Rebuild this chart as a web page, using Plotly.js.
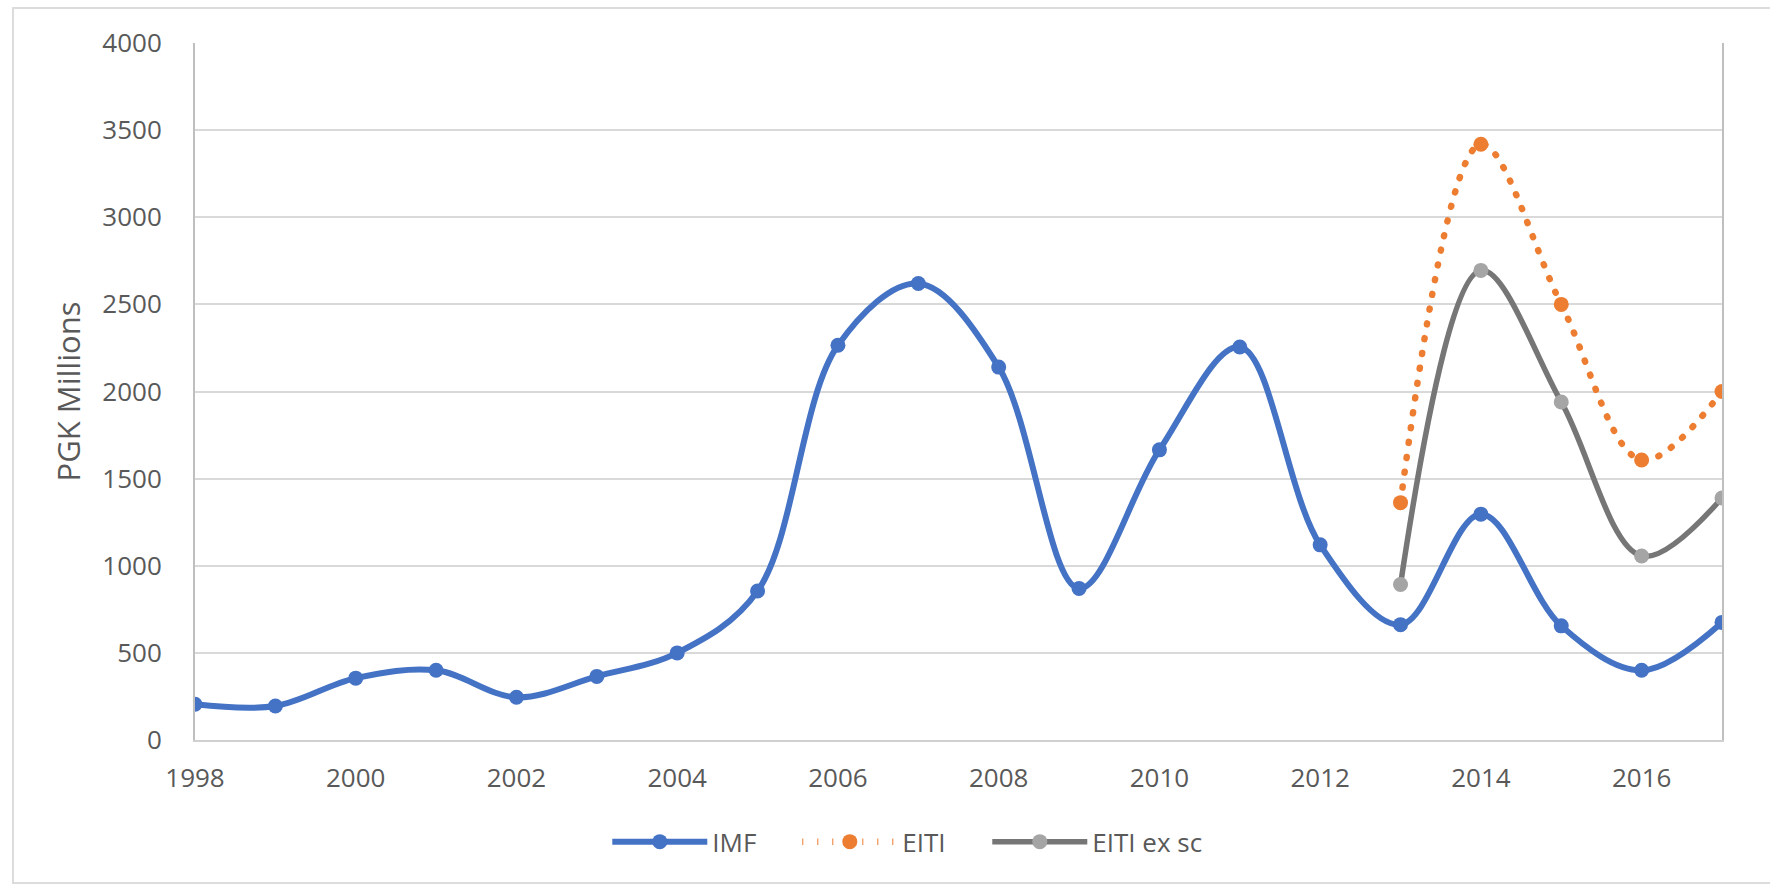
<!DOCTYPE html>
<html>
<head>
<meta charset="utf-8">
<script src="https://cdn.plot.ly/plotly-3.0.1.min.js"></script>
<style>
  html, body { margin: 0; padding: 0; background: #ffffff; overflow: hidden; }
  #frame {
    position: absolute; left: 12px; top: 7px; width: 1770px; height: 877px;
    border: 2px solid #dcdcdc; box-sizing: border-box;
  }
  #chart { position: absolute; left: 0; top: 0; width: 1770px; height: 887px; }
  .scatterlayer .js-line { stroke-linecap: round; }
</style>
</head>
<body>
<div id="frame"></div>
<div id="chart"></div>
<script>
// Revenue series, PGK millions
const years = [1998, 1999, 2000, 2001, 2002, 2003, 2004, 2005, 2006, 2007,
               2008, 2009, 2010, 2011, 2012, 2013, 2014, 2015, 2016, 2017];
const imf = [205, 195, 355, 400, 245, 365, 500, 855, 2265, 2620,
             2140, 870, 1665, 2255, 1120, 662, 1296, 655, 400, 675];

const eitiYears = [2013, 2014, 2015, 2016, 2017];
const eiti = [1362, 3419, 2500, 1607, 2000];
const eitiExSc = [892, 2695, 1940, 1056, 1389];

const xTicks = [1998, 2000, 2002, 2004, 2006, 2008, 2010, 2012, 2014, 2016];
const yTicks = [0, 500, 1000, 1500, 2000, 2500, 3000, 3500, 4000];

const font = '"Open Sans", "DejaVu Sans", sans-serif';
const grey = '#595959';

const traces = [
  {
    name: 'IMF', x: years, y: imf, type: 'scatter', mode: 'lines+markers',
    line: { color: '#4472c4', width: 6, shape: 'spline', smoothing: 1 },
    marker: { color: '#4472c4', size: 15 }
  },
  {
    name: 'EITI', x: eitiYears, y: eiti, type: 'scatter', mode: 'lines+markers',
    line: { color: '#ed7d31', width: 6.5, shape: 'spline', smoothing: 1, dash: '1px,14px' },
    marker: { color: '#ed7d31', size: 15 }
  },
  {
    name: 'EITI ex sc', x: eitiYears, y: eitiExSc, type: 'scatter', mode: 'lines+markers',
    line: { color: '#767676', width: 5.5, shape: 'spline', smoothing: 1 },
    marker: { color: '#a5a5a5', size: 15 }
  }
];

const layout = {
  width: 1770, height: 887,
  margin: { l: 195, r: 48, t: 43, b: 147 },
  paper_bgcolor: 'rgba(0,0,0,0)', plot_bgcolor: '#ffffff',
  font: { family: font, size: 26, color: grey },
  showlegend: true,
  legend: {
    orientation: 'h', x: 0.27, xanchor: 'left', y: -0.146, yanchor: 'middle',
    font: { family: font, size: 26, color: grey }, itemwidth: 95,
    entrywidth: 80, entrywidthmode: 'pixels',
    traceorder: 'normal', bgcolor: 'rgba(0,0,0,0)'
  },
  xaxis: {
    range: [1998, 2017], tickmode: 'array', tickvals: xTicks, ticktext: xTicks.map(String),
    showgrid: false, zeroline: false, showline: true, linecolor: '#d0d0d0', linewidth: 2,
    ticks: '', ticklabelstandoff: 14,
    tickfont: { family: font, size: 26, color: grey }
  },
  yaxis: {
    range: [0, 4000], tickmode: 'array', tickvals: yTicks, ticktext: yTicks.map(String),
    showgrid: true, gridcolor: '#d9d9d9', gridwidth: 2, zeroline: false,
    showline: true, linecolor: '#bfbfbf', linewidth: 2, mirror: true,
    ticks: '', ticklabelstandoff: 26,
    tickfont: { family: font, size: 26, color: grey },
    title: { text: 'PGK Millions', font: { family: font, size: 31, color: grey }, standoff: 12 }
  }
};

Plotly.newPlot('chart', traces, layout, { displayModeBar: false, staticPlot: true })
  .then(function (gd) {
    // fixed entry widths keep the spacing even; let the last label run past its slot
    gd.querySelectorAll('.legend .scrollbox, .legend .bg').forEach(function (el) {
      el.removeAttribute('clip-path');
    });
    gd.querySelectorAll('.legend [clip-path]').forEach(function (el) {
      el.removeAttribute('clip-path');
    });
  });
</script>
</body>
</html>
